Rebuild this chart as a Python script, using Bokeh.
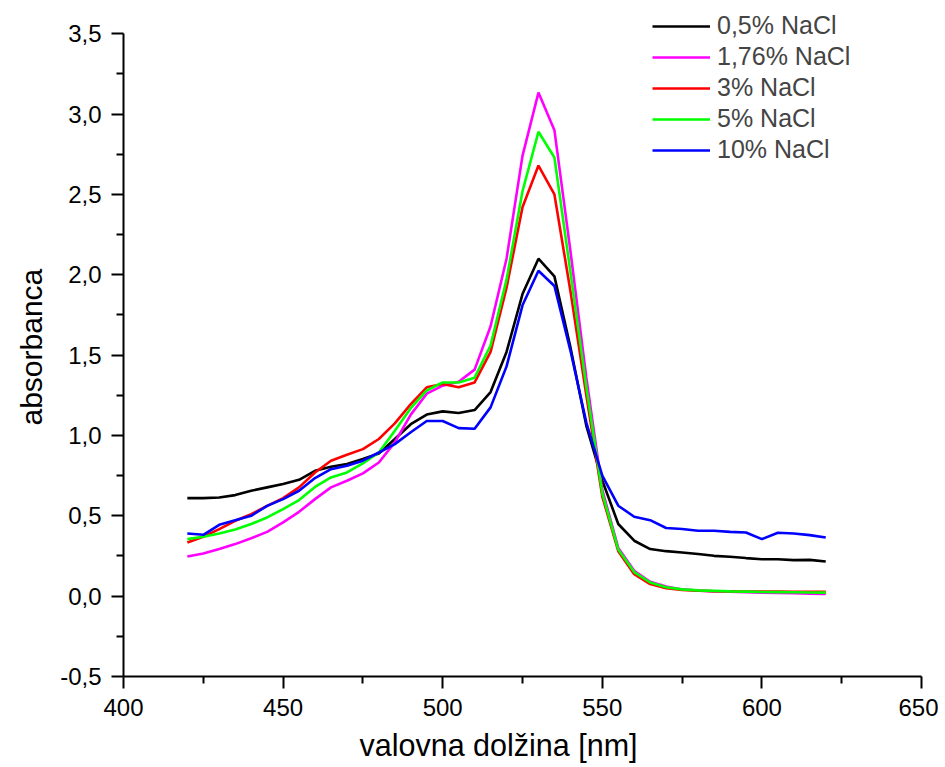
from bokeh.plotting import figure
from bokeh.models import FixedTicker, Range1d, Legend, LegendItem, Title
from bokeh.embed import file_html
from bokeh.resources import INLINE

wavelength = [420, 425, 430, 435, 440, 445, 450, 455, 460, 465, 470, 475, 480, 485, 490,
              495, 500, 505, 510, 515, 520, 525, 530, 535, 540, 545, 550, 555, 560, 565,
              570, 575, 580, 585, 590, 595, 600, 605, 610, 615, 620]

nacl_0_5 = [0.61, 0.61, 0.614, 0.629, 0.656, 0.677, 0.698, 0.724, 0.78, 0.805, 0.822, 0.853,
            0.888, 0.978, 1.07, 1.13, 1.15, 1.14, 1.158, 1.27, 1.52, 1.88, 2.10, 1.99, 1.55,
            1.06, 0.72, 0.449, 0.345, 0.293, 0.28, 0.272, 0.262, 0.251, 0.245, 0.237, 0.23,
            0.23, 0.224, 0.226, 0.216]
nacl_1_76 = [0.247, 0.266, 0.293, 0.324, 0.36, 0.40, 0.459, 0.525, 0.604, 0.677, 0.718, 0.764,
             0.832, 0.957, 1.13, 1.26, 1.31, 1.334, 1.41, 1.68, 2.10, 2.74, 3.134, 2.90, 2.15,
             1.36, 0.66, 0.30, 0.158, 0.09, 0.06, 0.042, 0.035, 0.03, 0.027, 0.025, 0.022,
             0.02, 0.018, 0.016, 0.013]
nacl_3 = [0.334, 0.37, 0.417, 0.469, 0.51, 0.562, 0.61, 0.677, 0.77, 0.843, 0.88, 0.915,
          0.978, 1.075, 1.195, 1.30, 1.32, 1.30, 1.33, 1.52, 1.92, 2.42, 2.68, 2.50, 1.90,
          1.25, 0.62, 0.28, 0.137, 0.075, 0.05, 0.038, 0.034, 0.031, 0.03, 0.029, 0.028,
          0.028, 0.027, 0.027, 0.027]
nacl_5 = [0.355, 0.37, 0.39, 0.415, 0.449, 0.49, 0.542, 0.598, 0.68, 0.739, 0.77, 0.826,
          0.894, 1.03, 1.17, 1.28, 1.33, 1.33, 1.36, 1.56, 1.97, 2.52, 2.89, 2.73, 2.02,
          1.30, 0.64, 0.29, 0.15, 0.085, 0.055, 0.042, 0.036, 0.033, 0.03, 0.028, 0.026,
          0.025, 0.024, 0.023, 0.022]
nacl_10 = [0.39, 0.382, 0.444, 0.473, 0.50, 0.562, 0.604, 0.656, 0.735, 0.79, 0.811, 0.843,
           0.894, 0.946, 1.02, 1.09, 1.09, 1.046, 1.042, 1.175, 1.43, 1.81, 2.025, 1.93, 1.53,
           1.08, 0.75, 0.563, 0.494, 0.473, 0.424, 0.418, 0.407, 0.407, 0.40, 0.396, 0.355,
           0.395, 0.39, 0.38, 0.365]

series_labels = ["0,5% NaCl", "1,76% NaCl", "3% NaCl", "5% NaCl", "10% NaCl"]
series_values = [nacl_0_5, nacl_1_76, nacl_3, nacl_5, nacl_10]
series_colors = ["#000000", "#FF00FF", "#FF0000", "#00FF00", "#0000FF"]

x_ticks = [400, 450, 500, 550, 600, 650]
x_minor = [425, 475, 525, 575, 625]
y_ticks = [-0.5, 0.0, 0.5, 1.0, 1.5, 2.0, 2.5, 3.0, 3.5]
y_tick_labels = ["-0,5", "0,0", "0,5", "1,0", "1,5", "2,0", "2,5", "3,0", "3,5"]
y_minor = [-0.25, 0.25, 0.75, 1.25, 1.75, 2.25, 2.75, 3.25]

FONT = "Liberation Sans"

# frame extends a little above 3.5 so the legend (which sits above the axis top) is not clipped
p = figure(frame_width=798, frame_height=671, output_backend="svg", toolbar_location=None,
           x_range=Range1d(400, 650), y_range=Range1d(-0.5, 3.676),
           min_border_left=123, min_border_top=5, min_border_right=17, min_border_bottom=0)
p.outline_line_color = None
p.xgrid.visible = False
p.ygrid.visible = False
p.background_fill_color = "white"
p.border_fill_color = "white"

renderers = []
for vals, col in zip(series_values, series_colors):
    r = p.line(wavelength, vals, line_color=col, line_width=2.6)
    renderers.append(r)

for ax in (p.xaxis[0], p.yaxis[0]):
    ax.axis_line_width = 2
    ax.major_tick_line_width = 2
    ax.minor_tick_line_width = 2
    ax.major_tick_out = 12
    ax.major_tick_in = 0
    ax.minor_tick_out = 7
    ax.minor_tick_in = 0
    ax.major_label_text_font = FONT
    ax.major_label_text_font_size = "24px"
    ax.major_label_text_color = "black"

p.xaxis[0].ticker = FixedTicker(ticks=x_ticks, minor_ticks=x_minor)
p.yaxis[0].ticker = FixedTicker(ticks=y_ticks, minor_ticks=y_minor)
p.yaxis[0].bounds = (-0.5, 3.5)
p.yaxis[0].major_label_overrides = {t: l for t, l in zip(y_ticks, y_tick_labels)}
p.xaxis[0].major_label_standoff = 10
p.yaxis[0].major_label_standoff = 10

xlabel = Title(text="valovna dolžina [nm]", align="left", offset=236, standoff=14,
               text_font=FONT, text_font_size="30.5px", text_font_style="normal",
               text_color="black")
p.add_layout(xlabel, "below")

ylabel = Title(text="absorbanca", align="left", offset=251, standoff=20,
               text_font=FONT, text_font_size="30px", text_font_style="normal",
               text_color="black")
p.add_layout(ylabel, "left")

legend = Legend(items=[LegendItem(label=lab, renderers=[r]) for lab, r in zip(series_labels, renderers)],
                location=(529, 512), padding=0, margin=0, spacing=2,
                glyph_width=58, glyph_height=28, label_height=28, label_standoff=7,
                label_text_font=FONT, label_text_font_size="25px",
                border_line_color=None, background_fill_alpha=0)
p.add_layout(legend, "center")

with open("out.html", "w") as f:
    f.write(file_html(p, INLINE))
